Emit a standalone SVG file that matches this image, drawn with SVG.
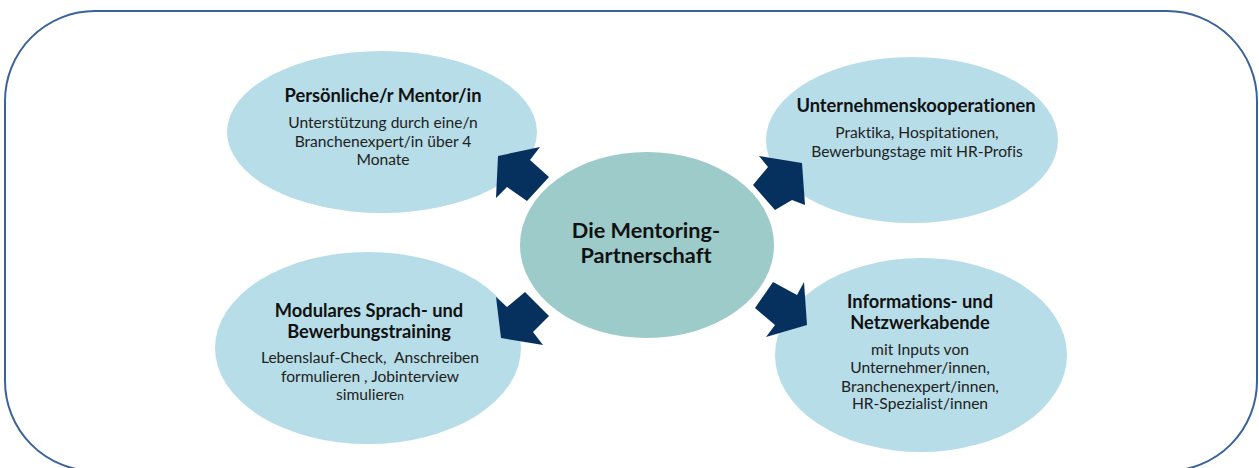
<svg xmlns="http://www.w3.org/2000/svg" width="1259" height="468" viewBox="0 0 1259 468">
<style>
.frame{fill:#ffffff;stroke:#3b6399;stroke-width:2}
.bub{fill:#b7dde8}
.core{fill:#9ccbc9}
.arr{fill:#06315e}
text{font-family:Lato,"Liberation Sans",sans-serif;text-anchor:middle;fill:#1a1a1a;font-variant-ligatures:none}
.h{font-weight:bold;font-size:18.3px;fill:#111}
.s{font-size:15.6px;fill:#222}
.c{font-weight:bold;font-size:21.7px;fill:#111}
</style>
<rect class="frame" x="5" y="11" width="1252" height="460" rx="90" ry="90"/>
<g id="node-mentor">
<ellipse class="bub" cx="382" cy="132" rx="155" ry="81"/>
<text class="h" x="383" y="102">Persönliche/r Mentor/in</text>
<text class="s" x="383" y="128">Unterstützung durch eine/n</text>
<text class="s" x="383" y="147">Branchenexpert/in über 4</text>
<text class="s" x="383" y="165">Monate</text>
</g>
<g id="node-kooperation">
<ellipse class="bub" cx="912" cy="140" rx="146" ry="83"/>
<text class="h" x="916" y="112">Unternehmenskooperationen</text>
<text class="s" x="917" y="138">Praktika, Hospitationen,</text>
<text class="s" x="917" y="157">Bewerbungstage mit HR-Profis</text>
</g>
<g id="node-training">
<ellipse class="bub" cx="368" cy="348" rx="153" ry="96"/>
<text class="h" x="369" y="317">Modulares Sprach- und</text>
<text class="h" x="369" y="338">Bewerbungstraining</text>
<text class="s" x="370" y="363" xml:space="preserve">Lebenslauf-Check,  Anschreiben</text>
<text class="s" x="370" y="382">formulieren , Jobinterview</text>
<text class="s" x="370" y="400">simuliere<tspan font-size="12px">n</tspan></text>
</g>
<g id="node-netzwerk">
<ellipse class="bub" cx="921" cy="355" rx="146" ry="97"/>
<text class="h" x="920" y="308">Informations- und</text>
<text class="h" x="920" y="329">Netzwerkabende</text>
<text class="s" x="920" y="355">mit Inputs von</text>
<text class="s" x="920" y="373">Unternehmer/innen,</text>
<text class="s" x="920" y="392">Branchenexpert/innen,</text>
<text class="s" x="920" y="409">HR-Spezialist/innen</text>
</g>
<g id="node-center">
<ellipse class="core" cx="647" cy="245" rx="127" ry="93"/>
<text class="c" x="646" y="238">Die Mentoring-</text>
<text class="c" x="646" y="263">Partnerschaft</text>
</g>
<g id="connectors">
<polygon class="arr" points="498,156 540,147 530,160 549,177 527,201 507,187 496,198"/>
<polygon class="arr" points="759,156 802,163 805,205 792,200 775,210 753,185 768,167"/>
<polygon class="arr" points="525,292 549,316 533,332 543,345 501,338 496,297 507,307"/>
<polygon class="arr" points="773,282 797,295 804,282 807,325 766,337 775,325 755,308"/>
</g>
</svg>
